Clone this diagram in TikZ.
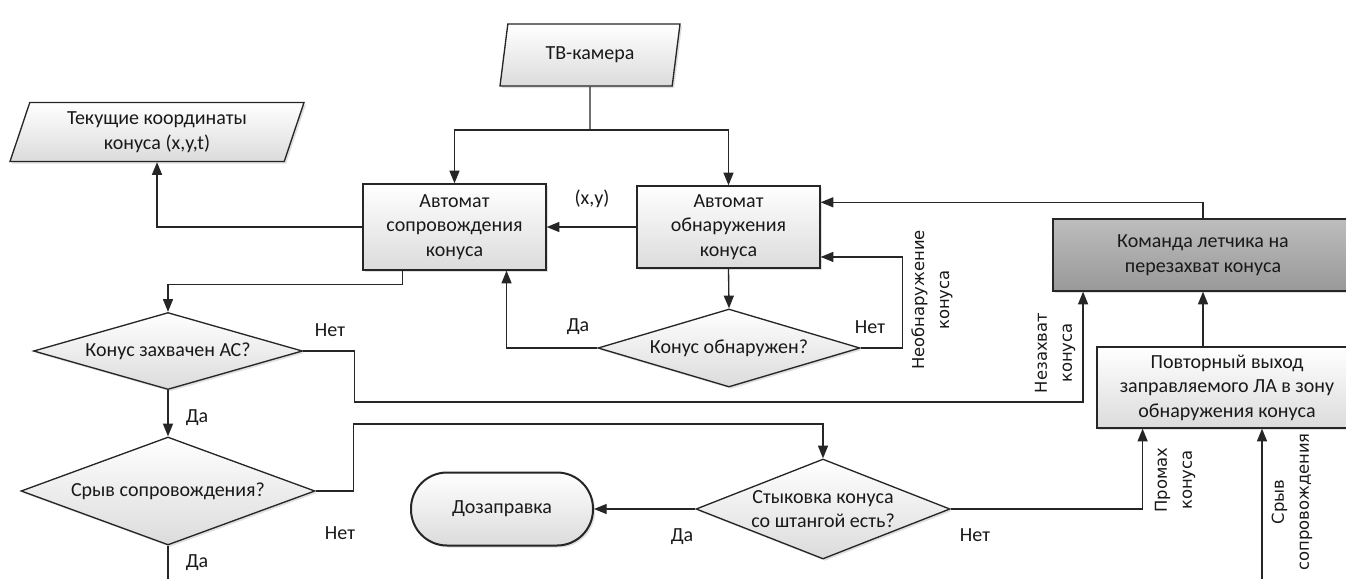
\documentclass[tikz,border=0pt]{standalone}
\usepackage{fontspec}
\setmainfont{Carlito}
\newfontfamily\rotfont{DejaVu Sans}
\usetikzlibrary{shapes.geometric,arrows.meta,shadows}

\begin{document}
\begin{tikzpicture}[x=0.75pt,y=-0.75pt]
\tikzstyle{every node}+=[inner sep=0pt, text=black!90, font=\fontsize{15}{18.4}\selectfont, align=center]
\tikzstyle{blk}=[draw=black!85, line width=1pt, top color=white, bottom color=black!14, drop shadow={shadow xshift=1.5pt, shadow yshift=-1.5pt, opacity=0.25}]
\tikzstyle{box}=[blk, rectangle]
\tikzstyle{io}=[blk, trapezium, trapezium left angle=64, trapezium right angle=116, trapezium stretches body]
\tikzstyle{dec}=[blk, diamond]
\tikzstyle{ln}=[draw=black!85, line width=1pt]
\tikzstyle{arr}=[ln, -{Triangle[length=9.5pt,width=7.5pt]}]
\tikzstyle{side}=[rotate=90, font=\rotfont\fontsize{12.3}{18.75}\selectfont]
\fill [white] (0,0) rectangle (1346,579);
\useasboundingbox (0,0) rectangle (1346,579);
\node [io, minimum width=135pt, minimum height=46.5pt] (tv) at (590,55) {ТВ-камера};
\node [io, minimum width=220.5pt, minimum height=44.25pt] (coords) at (157,132) {Текущие координаты\\конуса (x,y,t)};
\node [box, minimum width=137.25pt, minimum height=64.5pt] (track) at (454.5,227) {Автомат\\сопровождения\\конуса};
\node [box, minimum width=137.25pt, minimum height=61.5pt] (detect) at (728.5,227) {Автомат\\обнаружения\\конуса};
\node [box, top color=black!26, bottom color=black!40, minimum width=225pt, minimum height=54pt] (cmd) at (1203,255) {Команда летчика на\\перезахват конуса};
\node [box, minimum width=195pt, minimum height=60.75pt] (again) at (1227,387.5) {Повторный выход\\заправляемого ЛА в зону\\обнаружения конуса};
\node [dec, aspect=3.36, minimum width=196.5pt, minimum height=58.5pt] (dq1) at (729,348) {Конус обнаружен?};
\node [dec, aspect=3.49, minimum width=201.75pt, minimum height=57.75pt] (dq2) at (168,351) {Конус захвачен АС?};
\node [dec, aspect=2.72, minimum width=220.5pt, minimum height=81pt] (dq3) at (168,491) {Срыв сопровождения?};
\node [dec, aspect=2.54, minimum width=190.5pt, minimum height=75pt] (dq4) at (823,509) {Стыковка конуса\\со штангой есть?};
\node [box, line width=1.5pt, rounded corners=27pt, minimum width=136.5pt, minimum height=54.75pt] (refuel) at (502,509) {Дозаправка};
\coordinate (split) at (590,130);
\coordinate (ext) at (168,579);
\coordinate (lost) at (1262,579);
\draw [ln] (tv.south) -- (split);
\draw [arr] (split) -| (track.north);
\draw [arr] (split) -| (detect.north);
\draw [arr] (detect.west) -- (detect.west -| track.east);
\node (xy) at (592,199) {(x,y)};
\draw [arr] (track.west) -| (coords.south);
\draw [arr] (cmd.north) |- (detect.15);
\draw [arr] (detect.south) -- (dq1.north);
\draw [arr] (dq1.east) -- ++(42,0) |- (detect.-18);
\draw [arr] (dq1.west) -| (track.-40);
\draw [arr] (track.-140) -- ++(0,14) -| (dq2.north);
\draw [arr] (dq2.east) -- ++(51,0) -- ++(0,51) -| (cmd.-163.5);
\draw [arr] (dq2.south) -- (dq3.north);
\draw [arr] (dq3.east) -- ++(38,0) -- ++(0,-67) -| (dq4.north);
\draw [ln] (dq3.south) -- (ext);
\draw [arr] (dq4.west) -- (refuel.east);
\draw [arr] (dq4.east) -| (again.-154.5);
\draw [arr] (again.north -| cmd.south) -- (cmd.south);
\draw [arr] (lost) -- (lost |- again.south);
\node (no1) at (870,327) {Нет};
\node (yes1) at (578,327) {Да};
\node (no2) at (330,330) {Нет};
\node (yes2) at (197,418) {Да};
\node (no3) at (340,533) {Нет};
\node (yes3) at (197,563) {Да};
\node (yes4) at (682,537) {Да};
\node (no4) at (975,535) {Нет};
\node [side] (lbl1) at (932,300) {Необнаружение\\конуса};
\node [side] (lbl2) at (1055,353) {Незахват\\конуса};
\node [side] (lbl3) at (1175,480) {Промах\\конуса};
\node [side] (lbl4) at (1292,502) {Срыв\\сопровождения};
\end{tikzpicture}
\end{document}
